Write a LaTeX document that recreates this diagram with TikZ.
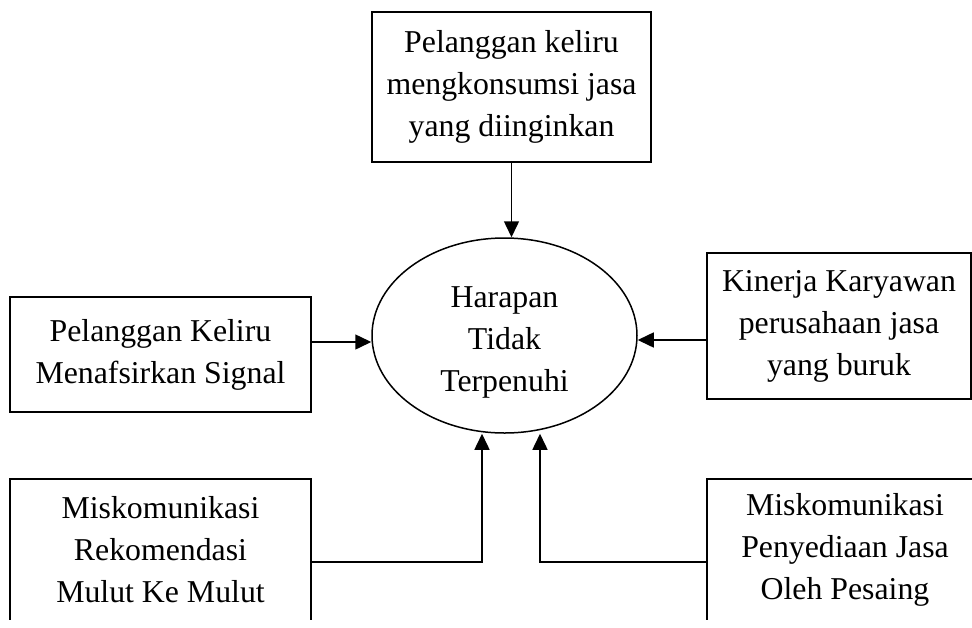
\documentclass[tikz,border=0pt]{standalone}
\usepackage{fontspec}
\setmainfont{Liberation Serif}
\usetikzlibrary{shapes.geometric,arrows.meta}
\begin{document}
\begin{tikzpicture}[x=1pt,y=-1pt,line width=1.5pt,>={Triangle[length=16pt,width=15pt]},
 teks/.style={align=center,inner sep=0pt,font=\fontsize{31.8}{42}\selectfont},
 box/.style={teks,draw,rectangle},
 oval/.style={draw,ellipse,inner sep=0pt,minimum width=265pt,minimum height=195pt}]
 \useasboundingbox (0,0) rectangle (972,627);
 \clip (0,0) rectangle (972,619);
 % pusat
 \node[oval] (hrp) at (504.5,335.5) {};
 \node[teks] (hrpt) at ([yshift=-7pt]hrp.center) {Harapan\\Tidak\\Terpenuhi};
 % kotak-kotak penyebab
 \node[box,minimum width=279pt,minimum height=150pt] (pkj) at (511.5,87) {Pelanggan keliru\\mengkonsumsi jasa\\yang diinginkan};
 \node[box,minimum width=301pt,minimum height=115pt] (sig) at (160.5,354.5) {Pelanggan Keliru\\Menafsirkan Signal};
 \node[box,minimum width=264pt,minimum height=146pt] (kin) at (839,326) {Kinerja Karyawan\\perusahaan jasa\\yang buruk};
 \node[box,minimum width=301pt,minimum height=142pt] (rek) at (160.5,550) {Miskomunikasi\\Rekomendasi\\Mulut Ke Mulut};
 \node[box,minimum width=276pt,minimum height=142pt] (pes) at (845,550) {Miskomunikasi\\Penyediaan Jasa\\Oleh Pesaing};
 \coordinate (kl) at (482,562);
 \coordinate (kr) at (540,562);
 % panah
 \draw[->] (pkj.south) -- (pkj.south |- hrp.north);
 \draw[->] (sig.east |- 0,342) -- (hrp.west |- 0,342);
 \draw[->] (kin.west |- 0,340) -- (hrp.east |- 0,340);
 \draw[->] (rek.east |- kl) -- (kl) -- (kl |- hrp.south);
 \draw[->] (pes.west |- kr) -- (kr) -- (kr |- hrp.south);
\end{tikzpicture}
\end{document}
